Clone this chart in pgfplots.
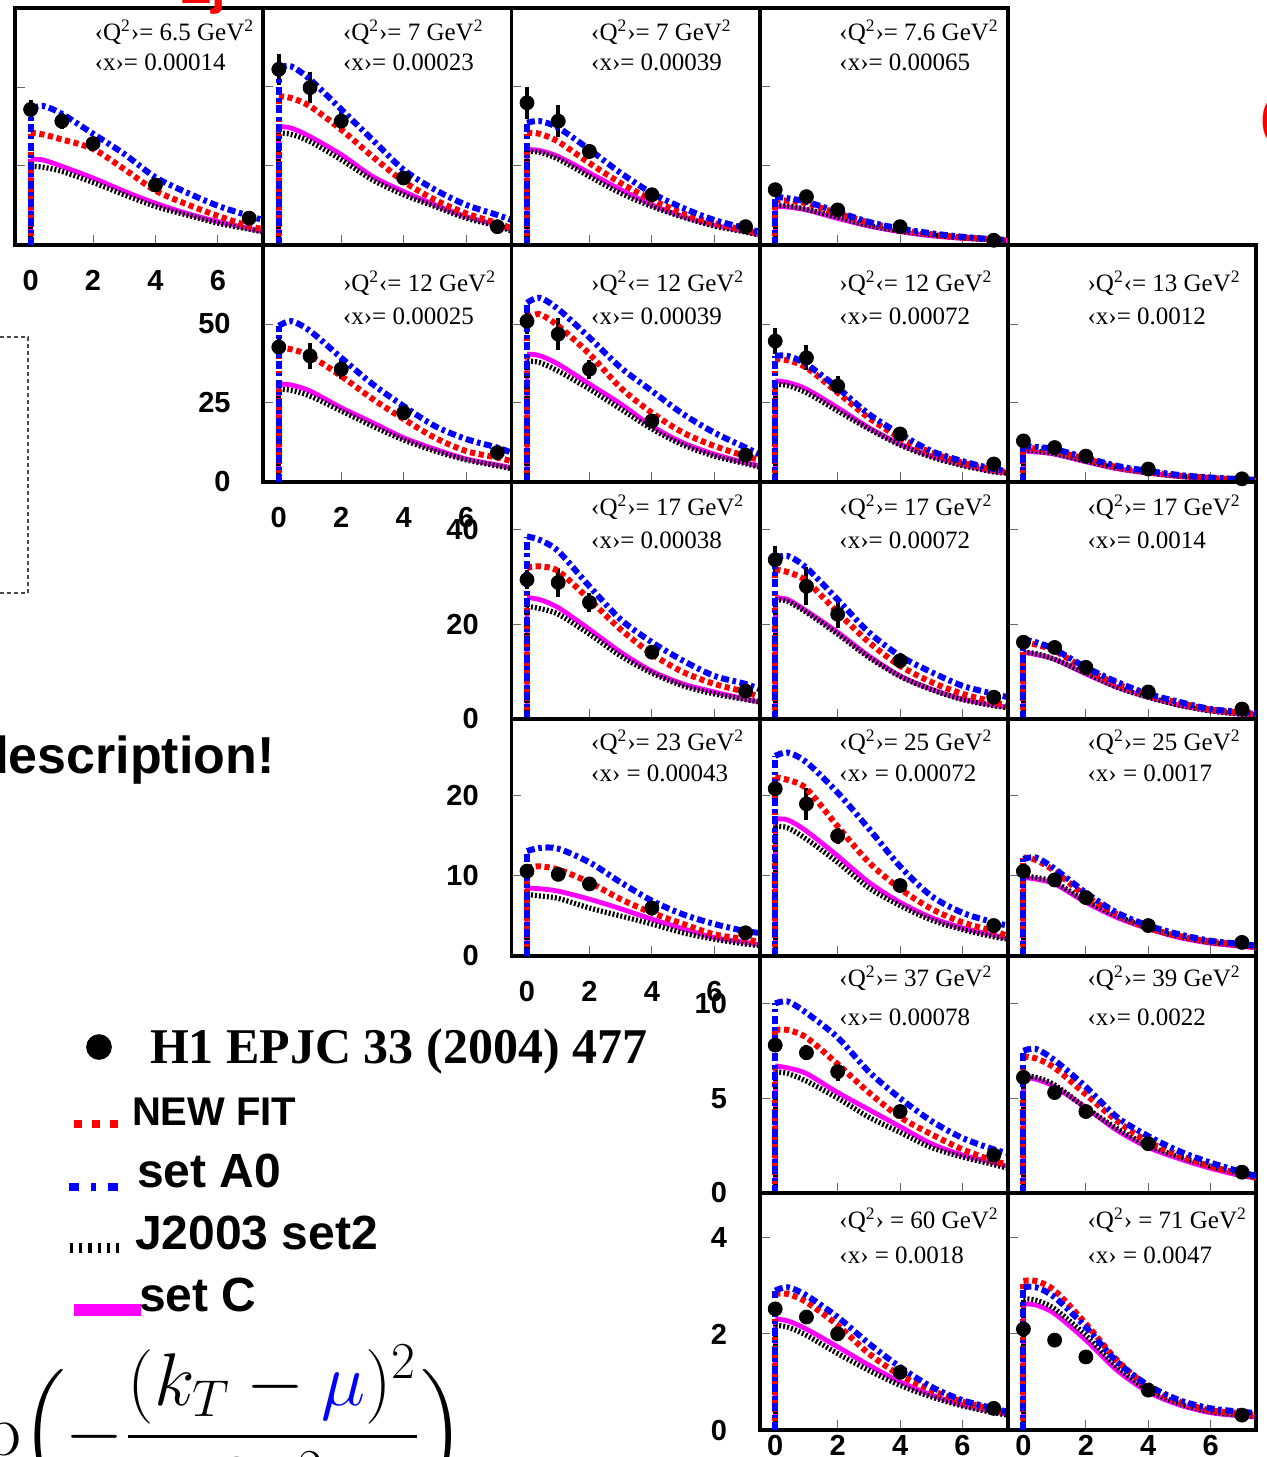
\documentclass[border=0pt]{standalone}
\usepackage[no-math]{fontspec}
\setmainfont{Liberation Serif}
\setsansfont{Liberation Sans}
\usepackage{amsmath}
\usepackage{pgfplots}
\pgfplotsset{compat=1.18}
\usepackage{pgfplotstable}
\definecolor{mag}{RGB}{255,0,255}

\tikzset{lab/.style={font=\fontsize{12.5}{15}\selectfont, inner sep=0pt, anchor=west}}
\pgfplotsset{
  cNew/.style={red, line width=3pt, dash pattern=on 2.6pt off 1.8pt},
  cA0/.style={blue, line width=3pt, dash pattern=on 4pt off 1.8pt on 1.8pt off 1.8pt},
  cJ/.style={black, line width=2.6pt, dash pattern=on 1pt off 1pt},
  cC/.style={mag, line width=2.4pt},
  panel/.style={scale only axis, width=124.1pt, height=118.5pt, anchor=north west,
    xmin=-0.5, xmax=7.45, ymin=0, xtick={0,2,4,6}, xticklabels={}, yticklabels={},
    tick align=inside, xtick pos=left, ytick pos=left, major tick length=5pt,
    tick style={line width=0.5pt, black!60},
    axis line style={line width=1.9pt},
    ticklabel style={font=\fontsize{14.5}{17}\selectfont\sffamily\bfseries}},
  xl/.style={xticklabels={0,2,4,6}, xticklabel style={yshift=-9.3pt}},
  xlb/.style={xticklabels={0,2,4,6}, xticklabel style={yshift=1pt}},
  yl/.style={yticklabels={#1}, yticklabel style={xshift=-12.8pt}},
}

\newcommand{\curves}[1]{%
  \addplot[cC, smooth] table[x=x,y=c,skip coords between index={0}{1}] {#1};
  \addplot[cC] table[x=x,y=c,skip coords between index={2}{40}] {#1};
  \addplot[cJ, smooth] table[x=x,y=j,skip coords between index={0}{1}] {#1};
  \addplot[cJ] table[x=x,y=j,skip coords between index={2}{40}] {#1};
  \addplot[cNew, smooth] table[x=x,y=new,skip coords between index={0}{1}] {#1};
  \addplot[cNew] table[x=x,y=new,skip coords between index={2}{40}] {#1};
  \addplot[cA0, smooth] table[x=x,y=a0,skip coords between index={0}{1}] {#1};
  \addplot[cA0] table[x=x,y=a0,skip coords between index={2}{40}] {#1};
}
\newcommand{\datapts}[1]{%
  \addplot[black, only marks, mark=*, mark size=3.5pt,
    error bars/.cd, y dir=both, y explicit, error mark=none,
    error bar style={line width=2pt, black}]
    table[x=x, y=y, y error=e] {#1};
}
\newcommand{\labs}[4]{%
  \node[lab] at (rel axis cs:0.32,#3) {#1};
  \node[lab] at (rel axis cs:0.32,#4) {#2};
}
\newcommand{\Qa}[1]{‹Q\textsuperscript{2}›= #1 GeV\textsuperscript{2}}
\newcommand{\Qb}[1]{›Q\textsuperscript{2}‹= #1 GeV\textsuperscript{2}}
\newcommand{\Qc}[1]{‹Q\textsuperscript{2}› = #1 GeV\textsuperscript{2}}

% ---------- curves: x, NEW FIT, set A0, J2003 set2, set C ----------
\pgfplotstableread{
x new a0 j c
0 0 0 0 0
0 35.5 43.1 24.9 27.2
0.4 35.0 44.0 24.6 26.9
1 33.4 41.5 23.3 24.9
2 30.4 35.2 19.8 21.2
3 24.0 28.8 15.9 17.0
4 17.2 21.4 12.2 13.2
5 12.9 16.6 9.5 10.0
6 9.2 12.4 6.9 7.4
7 6.0 9.2 5.0 5.2
7.45 5.0 7.9 4.1 4.2
}\cA
\pgfplotstableread{
x y e
0 42.9 3
1 39.2 2.5
2 32.1 2
4 19 1.5
7 8.5 1.2
}\dA
\pgfplotstableread{
x new a0 j c
0 0 0 0 0
0 47.1 56.2 35.5 37.5
0.4 46.5 56.5 35.0 37.0
1 43.9 52.4 32.7 34.3
2 36.5 42.9 27.0 28.6
3 28.0 33.3 20.6 21.7
4 20.1 23.8 15.9 16.9
5 14.3 17.5 12.2 12.7
6 10.0 12.7 8.5 9.0
7 6.9 9.5 6.0 6.3
7.45 5.3 7.9 4.4 4.7
}\cB
\pgfplotstableread{
x y e
0 55.6 5
1 49.8 5
2 39.2 3
4 21.2 1.5
7 5.8 1
}\dB
\pgfplotstableread{
x new a0 j c
0 0 0 0 0
0 35.5 38.7 29.6 30.2
0.4 35.2 39.2 29.3 29.9
1 32.7 37.1 27.2 28.0
2 25.9 30.2 21.7 22.8
3 19.6 22.8 16.4 17.5
4 14.3 16.4 12.2 12.7
5 10.0 11.7 8.8 9.0
6 6.9 7.9 6.0 6.3
7 4.7 5.3 4.1 4.2
7.45 3.7 4.2 3.1 3.2
}\cC
\pgfplotstableread{
x y e
0 45 5
1 39.2 5
2 29.6 2.5
4 15.9 1.2
7 5.8 0.8
}\dC
\pgfplotstableread{
x new a0 j c
0 0 0 0 0
0 14.3 15.3 12.7 12.2
0.4 14.0 14.8 12.4 12.0
1 13.2 13.7 11.3 11.1
2 10.0 10.5 8.8 8.4
3 7.1 7.3 6.2 6.0
4 4.9 5.2 4.4 4.2
5 3.4 3.7 3.2 2.9
6 2.4 2.6 2.2 2.1
7 1.8 1.8 1.6 1.6
7.45 1.5 1.6 1.4 1.4
}\cD
\pgfplotstableread{
x y e
0 17.5 1.2
1 15.3 1
2 11.1 0.8
4 5.8 0.5
7 1.5 0.2
}\dD
\pgfplotstableread{
x new a0 j c
0 0 0 0 0
0 42.5 49.4 29.4 31.0
0.4 42.0 50.9 29.0 30.7
1 39.9 47.8 27.2 28.8
2 33.5 39.3 22.5 23.5
3 26.3 31.0 17.7 18.8
4 19.9 24.0 13.3 14.0
5 14.0 17.7 9.8 10.4
6 9.8 13.6 7.0 7.3
7 7.7 10.9 5.1 5.4
7.45 6.6 9.3 4.2 4.5
}\cE
\pgfplotstableread{
x y e
0 42.7 2.5
1 39.9 4
2 35.7 3
4 21.9 2
7 9.3 1
}\dE
\pgfplotstableread{
x new a0 j c
0 0 0 0 0
0 52.0 56.7 38.3 40.5
0.4 53.1 58.3 37.8 40.0
1 49.4 54.7 35.1 37.3
2 40.5 45.7 29.4 31.0
3 29.8 36.2 23.1 24.7
4 21.9 28.8 16.8 17.7
5 15.6 21.5 11.7 12.4
6 11.4 15.6 8.2 8.8
7 8.2 10.9 5.8 6.1
7.45 7.0 8.8 4.7 5.1
}\cF
\pgfplotstableread{
x y e
0 50.9 4
1 46.8 5
2 35.7 3
4 19.3 1.5
7 8.5 1
}\dF
\pgfplotstableread{
x new a0 j c
0 0 0 0 0
0 38.9 39.9 31.0 32.0
0.4 38.5 39.9 30.5 31.5
1 36.2 37.3 28.3 29.4
2 28.3 29.8 22.5 23.5
3 20.3 21.5 16.8 17.2
4 14.0 15.2 11.7 12.0
5 9.3 9.8 7.9 8.2
6 6.1 6.6 5.2 5.4
7 3.8 4.1 3.2 3.3
7.45 3.2 3.5 2.8 2.9
}\cG
\pgfplotstableread{
x y e
0 44.6 4
1 39.3 4
2 30.4 3
4 15.2 1.2
7 5.7 0.8
}\dG
\pgfplotstableread{
x new a0 j c
0 0 0 0 0
0 10.9 11.4 10.1 9.8
0.4 10.6 11.1 9.8 9.5
1 9.8 10.4 9.0 8.8
2 7.3 7.7 6.6 6.4
3 4.7 5.1 4.4 4.2
4 3.2 3.5 2.9 2.8
5 2.0 2.2 1.8 1.7
6 1.3 1.4 1.2 1.1
7 0.7 0.9 0.7 0.6
7.45 0.6 0.7 0.5 0.5
}\cH
\pgfplotstableread{
x y e
0 13 1
1 10.9 0.8
2 8.2 0.6
4 4.1 0.4
7 1.0 0.2
}\dH
\pgfplotstableread{
x new a0 j c
0 0 0 0 0
0 31.9 38.5 23.8 25.6
0.4 32.2 37.8 23.3 25.2
1 31.2 35.4 22.1 23.5
2 25.2 28.0 17.9 18.9
3 18.9 21.0 13.3 14.1
4 13.7 16.2 9.7 10.1
5 9.9 12.3 7.0 7.4
6 7.4 9.1 5.3 5.7
7 5.7 7.4 4.1 4.2
7.45 4.6 6.3 3.6 3.6
}\cI
\pgfplotstableread{
x y e
0 29.4 2
1 28.8 3
2 24.6 2
4 14.1 1
7 5.9 0.6
}\dI
\pgfplotstableread{
x new a0 j c
0 0 0 0 0
0 31.5 34.0 25.2 25.6
0.4 31.0 34.4 24.8 25.2
1 29.1 31.9 22.5 22.8
2 22.5 25.2 17.9 18.3
3 16.2 18.3 13.0 13.3
4 11.2 13.3 9.0 9.1
5 7.8 9.9 6.2 6.3
6 5.3 7.0 4.1 4.2
7 3.6 5.3 2.8 2.9
7.45 2.8 4.6 2.4 2.5
}\cJ
\pgfplotstableread{
x y e
0 33.6 3
1 28 4
2 22.1 3
4 12.3 1
7 4.6 0.5
}\dJ
\pgfplotstableread{
x new a0 j c
0 0 0 0 0
0 16.2 16.8 14.1 14.1
0.4 15.7 16.2 13.8 13.6
1 14.4 14.7 12.6 12.6
2 10.5 10.9 9.7 9.5
3 7.4 7.8 6.7 6.7
4 5.0 5.3 4.6 4.6
5 3.4 3.6 2.9 2.9
6 2.0 2.1 1.7 1.7
7 1.3 1.5 1.0 1.0
7.45 1.1 1.3 0.9 0.9
}\cK
\pgfplotstableread{
x y e
0 16.2 1
1 15.1 1
2 10.9 0.8
4 5.7 0.4
7 2.1 0.3
}\dK
\pgfplotstableread{
x new a0 j c
0 0 0 0 0
0 11.0 13.1 7.7 8.5
0.4 11.2 13.5 7.5 8.4
1 10.8 13.4 7.2 8.1
2 9.2 11.7 6.0 7.1
3 7.1 9.2 5.0 5.9
4 5.4 6.9 4.0 4.6
5 4.0 5.2 2.9 3.4
6 2.7 4.0 2.1 2.3
7 2.1 3.1 1.5 1.7
7.45 1.7 2.9 1.3 1.4
}\cL
\pgfplotstableread{
x y e
0 10.6 0.6
1 10.2 0.7
2 9.0 0.5
4 6.0 0.4
7 2.9 0.3
}\dL
\pgfplotstableread{
x new a0 j c
0 0 0 0 0
0 22.3 25.0 16.2 17.1
0.4 22.0 25.4 16.0 17.0
1 20.9 24.2 14.6 15.6
2 16.2 20.4 11.7 12.5
3 11.7 15.9 8.5 9.2
4 8.4 11.2 6.3 6.7
5 5.9 7.5 4.5 4.8
6 4.2 5.4 3.3 3.5
7 3.1 4.2 2.4 2.6
7.45 2.5 3.8 2.1 2.2
}\cM
\pgfplotstableread{
x y e
0 20.9 1
1 19 2
2 15 1
4 8.8 0.5
7 3.8 0.3
}\dM
\pgfplotstableread{
x new a0 j c
0 0 0 0 0
0 12.3 12.1 10.0 9.8
0.4 12.0 12.3 9.8 9.6
1 10.6 10.9 9.2 9.0
2 7.5 7.9 6.9 6.7
3 5.2 5.4 5.0 4.8
4 3.5 3.8 3.5 3.4
5 2.5 2.7 2.4 2.3
6 1.8 1.9 1.7 1.6
7 1.4 1.5 1.3 1.2
7.45 1.2 1.3 1.1 1.0
}\cN
\pgfplotstableread{
x y e
0 10.6 0.6
1 9.5 0.5
2 7.3 0.4
4 3.8 0.3
7 1.7 0.2
}\dN
\pgfplotstableread{
x new a0 j c
0 0 0 0 0
0 8.6 10.0 6.4 6.7
0.4 8.6 10.1 6.3 6.6
1 8.2 9.5 5.9 6.3
2 6.8 8.2 5.0 5.3
3 5.3 6.4 4.0 4.4
4 4.0 5.0 3.2 3.5
5 3.1 3.8 2.4 2.6
6 2.3 2.9 1.9 2.0
7 1.7 2.3 1.5 1.6
7.45 1.5 2.1 1.3 1.4
}\cO
\pgfplotstableread{
x y e
0 7.8 0.3
1 7.4 0.4
2 6.4 0.5
4 4.3 0.3
7 2.0 0.2
}\dO
\pgfplotstableread{
x new a0 j c
0 0 0 0 0
0 7.2 7.5 6.2 6.1
0.4 7.1 7.6 6.1 6.0
1 6.6 7.0 5.7 5.6
2 5.2 5.6 4.5 4.5
3 3.8 4.0 3.4 3.3
4 2.7 3.0 2.5 2.4
5 2.0 2.2 1.9 1.8
6 1.4 1.6 1.4 1.3
7 1.0 1.1 1.0 0.9
7.45 0.8 0.9 0.8 0.8
}\cP
\pgfplotstableread{
x y e
0 6.1 0.3
1 5.3 0.3
2 4.3 0.3
4 2.6 0.2
7 1.1 0.1
}\dP
\pgfplotstableread{
x new a0 j c
0 0 0 0 0
0 2.83 2.90 2.18 2.31
0.4 2.83 2.97 2.14 2.27
1 2.66 2.80 1.97 2.10
2 2.18 2.35 1.59 1.73
3 1.59 1.80 1.24 1.35
4 1.14 1.31 0.93 1.00
5 0.83 0.90 0.69 0.73
6 0.59 0.62 0.50 0.52
7 0.43 0.45 0.36 0.38
7.45 0.36 0.38 0.31 0.33
}\cQ
\pgfplotstableread{
x y e
0 2.52 0.1
1 2.35 0.1
2 2.0 0.08
4 1.2 0.06
7 0.45 0.04
}\dQ
\pgfplotstableread{
x new a0 j c
0 0 0 0 0
0 3.10 2.97 2.73 2.62
0.4 3.10 2.97 2.70 2.60
1 2.90 2.76 2.52 2.42
2 2.21 2.14 1.97 1.87
3 1.45 1.42 1.31 1.24
4 0.90 0.93 0.83 0.79
5 0.59 0.62 0.55 0.52
6 0.41 0.45 0.38 0.36
7 0.35 0.38 0.31 0.29
7.45 0.31 0.35 0.28 0.27
}\cR
\pgfplotstableread{
x y e
0 2.1 0.06
1 1.87 0.12
2 1.52 0.08
4 0.83 0.05
7 0.31 0.03
}\dR

\begin{document}
\begin{tikzpicture}
\useasboundingbox (0,0) rectangle (633pt,-728.5pt);
\clip (0,0) rectangle (633pt,-728.5pt);

% ---------------- row 1 ----------------
\begin{axis}[panel, at={(7.5pt,-4pt)}, ymax=75, ytick={0,25,50}, xl]
\datapts{\dA}\curves{\cA}
\labs{\Qa{6.5}}{‹x›= 0.00014}{0.899}{0.772}
\end{axis}
\begin{axis}[panel, at={(131.6pt,-4pt)}, ymax=75, ytick={0,25,50}]
\datapts{\dB}\curves{\cB}
\labs{\Qa{7}}{‹x›= 0.00023}{0.899}{0.772}
\end{axis}
\begin{axis}[panel, at={(255.7pt,-4pt)}, ymax=75, ytick={0,25,50}]
\datapts{\dC}\curves{\cC}
\labs{\Qa{7}}{‹x›= 0.00039}{0.899}{0.772}
\end{axis}
\begin{axis}[panel, at={(379.8pt,-4pt)}, ymax=75, ytick={0,25,50}]
\datapts{\dD}\curves{\cD}
\labs{\Qa{7.6}}{‹x›= 0.00065}{0.899}{0.772}
\end{axis}

% ---------------- row 2 ----------------
\begin{axis}[panel, at={(131.6pt,-122.5pt)}, ymax=75, ytick={0,25,50}, xl, yl={0,25,50}]
\datapts{\dE}\curves{\cE}
\labs{\Qb{12}}{‹x›= 0.00025}{0.84}{0.70}
\end{axis}
\begin{axis}[panel, at={(255.7pt,-122.5pt)}, ymax=75, ytick={0,25,50}]
\datapts{\dF}\curves{\cF}
\labs{\Qb{12}}{‹x›= 0.00039}{0.84}{0.70}
\end{axis}
\begin{axis}[panel, at={(379.8pt,-122.5pt)}, ymax=75, ytick={0,25,50}]
\datapts{\dG}\curves{\cG}
\labs{\Qb{12}}{‹x›= 0.00072}{0.84}{0.70}
\end{axis}
\begin{axis}[panel, at={(503.9pt,-122.5pt)}, ymax=75, ytick={0,25,50}]
\datapts{\dH}\curves{\cH}
\labs{\Qb{13}}{‹x›= 0.0012}{0.84}{0.70}
\end{axis}

% ---------------- row 3 ----------------
\begin{axis}[panel, at={(255.7pt,-241pt)}, ymax=50, ytick={0,20,40}, yl={0,20,40}]
\datapts{\dI}\curves{\cI}
\labs{\Qa{17}}{‹x›= 0.00038}{0.895}{0.755}
\end{axis}
\begin{axis}[panel, at={(379.8pt,-241pt)}, ymax=50, ytick={0,20,40}]
\datapts{\dJ}\curves{\cJ}
\labs{\Qa{17}}{‹x›= 0.00072}{0.895}{0.755}
\end{axis}
\begin{axis}[panel, at={(503.9pt,-241pt)}, ymax=50, ytick={0,20,40}]
\datapts{\dK}\curves{\cK}
\labs{\Qa{17}}{‹x›= 0.0014}{0.895}{0.755}
\end{axis}

% ---------------- row 4 ----------------
\begin{axis}[panel, at={(255.7pt,-359.5pt)}, ymax=29.6, ytick={0,10,20}, xl, yl={0,10,20}]
\datapts{\dL}\curves{\cL}
\labs{\Qa{23}}{‹x› = 0.00043}{0.903}{0.772}
\end{axis}
\begin{axis}[panel, at={(379.8pt,-359.5pt)}, ymax=29.6, ytick={0,10,20}]
\datapts{\dM}\curves{\cM}
\labs{\Qa{25}}{‹x› = 0.00072}{0.903}{0.772}
\end{axis}
\begin{axis}[panel, at={(503.9pt,-359.5pt)}, ymax=29.6, ytick={0,10,20}]
\datapts{\dN}\curves{\cN}
\labs{\Qa{25}}{‹x› = 0.0017}{0.903}{0.772}
\end{axis}

% ---------------- row 5 ----------------
\begin{axis}[panel, at={(379.8pt,-478pt)}, ymax=12.5, ytick={0,5,10}, yl={0,5,10}]
\datapts{\dO}\curves{\cO}
\labs{\Qa{37}}{‹x›= 0.00078}{0.907}{0.743}
\end{axis}
\begin{axis}[panel, at={(503.9pt,-478pt)}, ymax=12.5, ytick={0,5,10}]
\datapts{\dP}\curves{\cP}
\labs{\Qa{39}}{‹x›= 0.0022}{0.907}{0.743}
\end{axis}

% ---------------- row 6 ----------------
\begin{axis}[panel, at={(379.8pt,-596.5pt)}, ymax=4.93, ytick={0,2,4}, xlb, yl={0,2,4}]
\datapts{\dQ}\curves{\cQ}
\labs{\Qc{60}}{‹x› = 0.0018}{0.886}{0.738}
\end{axis}
\begin{axis}[panel, at={(503.9pt,-596.5pt)}, ymax=4.93, ytick={0,2,4}, xlb]
\datapts{\dR}\curves{\cR}
\labs{\Qc{71}}{‹x› = 0.0047}{0.886}{0.738}
\end{axis}

% ---------------- legend ----------------
\begin{axis}[hide axis, scale only axis, width=5pt, height=5pt, anchor=north west,
  at={(32.5pt,-511.8pt)}, xmin=0, xmax=1, ymin=0, ymax=1,
  legend cell align=left,
  legend style={at={(0,1)}, anchor=north west, draw=none, fill=none,
    inner sep=0pt, outer sep=0pt, row sep=0pt, column sep=0pt,
    nodes={inner sep=0pt, text height=20pt, text depth=11pt}}]
\addlegendimage{legend image code/.code={\fill[black] (15pt,3.8pt) circle (6.2pt);}}
\addlegendentry{\fontsize{25}{28}\selectfont\bfseries\hspace{1.5pt}H1 EPJC 33 (2004) 477}
\addlegendimage{legend image code/.code={\draw[red, line width=4pt, dash pattern=on 4pt off 5pt] (2.5pt,-3.7pt) -- (24.5pt,-3.7pt);}}
\addlegendentry{\fontsize{20}{24}\selectfont\sffamily\bfseries\hspace{-7.5pt}NEW FIT}
\addlegendimage{legend image code/.code={\draw[blue, line width=4pt, dash pattern=on 5pt off 6pt on 2.5pt off 6pt] (0pt,-4.2pt) -- (24.5pt,-4.2pt);}}
\addlegendentry{\fontsize{24}{26}\selectfont\sffamily\bfseries\hspace{-5pt}set A0}
\addlegendimage{legend image code/.code={\draw[black, line width=5pt, dash pattern=on 1.6pt off 3pt] (0.5pt,-3.7pt) -- (26.1pt,-3.7pt);}}
\addlegendentry{\fontsize{24}{26}\selectfont\sffamily\bfseries\hspace{-6pt}J2003 set2}
\addlegendimage{legend image code/.code={\draw[mag, line width=6pt] (2.5pt,-3.7pt) -- (36pt,-3.7pt);}}
\addlegendentry{\fontsize{24}{26}\selectfont\sffamily\bfseries\hspace{-4pt}set C}
\end{axis}

% ---------------- surrounding fragments ----------------
\draw[black!70, line width=0.6pt, dash pattern=on 2pt off 1.5pt] (-5pt,-168.5pt) rectangle (14pt,-296.5pt);
\node[anchor=base east, inner sep=0pt, font=\fontsize{26}{30}\selectfont\sffamily\bfseries] at (137.5pt,-386.5pt) {description!};
\node[anchor=base east, inner sep=0pt, scale=1.5, transform shape, font=\fontsize{25}{30}\selectfont] at (233pt,-727.8pt) {$\exp\Bigl(-\dfrac{(k_T-{\color{blue}\mu})^2}{2\sigma^2}\Bigr)$};
\node[anchor=base west, inner sep=0pt, text=red, font=\fontsize{26}{30}\selectfont\sffamily\bfseries] at (90pt,-1.5pt) {Σj};
\node[anchor=west, inner sep=0pt, text=red, font=\fontsize{30}{30}\selectfont] at (630pt,-60.5pt) {(};
\end{tikzpicture}
\end{document}
